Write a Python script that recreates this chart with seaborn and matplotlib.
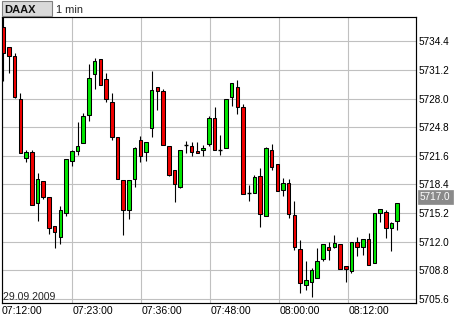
import matplotlib
matplotlib.use("Agg")
import matplotlib.pyplot as plt
from matplotlib.patches import Rectangle
import seaborn as sns
import numpy as np

# ---- data ----
opens = [5736.0, 5733.8, 5732.8, 5728.0, 5721.4, 5722.0, 5716.3, 5718.8, 5717.0, 5713.8,
         5712.5, 5715.2, 5721.0, 5722.1, 5723.0, 5726.2, 5730.8, 5732.4, 5730.2, 5727.6,
         5723.7, 5718.9, 5715.6, 5719.0, 5723.4, 5722.0, 5724.7, 5729.3, 5728.8, 5722.7,
         5720.0, 5718.1, 5722.8, 5722.7, 5722.1, 5722.2, 5722.9, 5725.8, 5722.3, 5722.5,
         5728.2, 5729.3, 5727.1, 5717.5, 5717.4, 5719.4, 5714.9, 5722.3, 5720.7, 5717.8,
         5718.6, 5715.0, 5711.2, 5707.2, 5707.5, 5707.9, 5710.1, 5711.4, 5711.4, 5711.7,
         5709.3, 5708.7, 5712.0, 5711.4, 5712.3, 5709.6, 5715.2, 5715.3, 5713.5, 5714.3]
highs = [5737.5, 5733.8, 5733.1, 5728.6, 5722.3, 5722.2, 5719.7, 5718.8, 5717.0, 5713.8,
         5716.0, 5721.3, 5722.2, 5725.4, 5726.4, 5731.9, 5732.5, 5732.4, 5730.9, 5728.6,
         5723.7, 5718.9, 5718.9, 5722.6, 5723.8, 5723.1, 5731.1, 5729.3, 5729.1, 5722.7,
         5720.0, 5722.3, 5723.3, 5723.2, 5723.1, 5722.8, 5726.1, 5727.1, 5723.9, 5728.0,
         5729.7, 5730.1, 5727.4, 5718.3, 5719.5, 5720.2, 5722.6, 5722.9, 5720.7, 5719.1,
         5719.0, 5716.5, 5712.2, 5709.8, 5709.1, 5711.3, 5711.7, 5712.0, 5712.8, 5711.7,
         5709.3, 5712.0, 5712.5, 5712.3, 5713.0, 5715.2, 5715.7, 5715.6, 5714.2, 5716.3]
lows = [5730.0, 5730.9, 5728.1, 5721.9, 5720.9, 5716.1, 5714.3, 5716.8, 5712.9, 5711.3,
        5711.7, 5714.9, 5720.5, 5721.7, 5723.0, 5725.5, 5729.1, 5729.5, 5727.6, 5723.4,
        5719.0, 5712.7, 5714.5, 5718.1, 5720.9, 5721.0, 5723.7, 5726.7, 5722.8, 5719.4,
        5716.4, 5718.0, 5721.9, 5721.6, 5721.9, 5721.6, 5722.7, 5722.3, 5721.7, 5722.5,
        5727.2, 5726.3, 5717.3, 5716.5, 5717.4, 5713.7, 5714.9, 5720.0, 5717.7, 5717.1,
        5714.7, 5711.1, 5706.3, 5706.6, 5705.8, 5707.9, 5709.9, 5710.0, 5711.3, 5709.0,
        5707.5, 5708.5, 5710.4, 5710.5, 5709.4, 5709.6, 5714.2, 5712.4, 5711.0, 5713.3]
closes = [5733.1, 5732.8, 5728.2, 5721.9, 5722.0, 5716.1, 5719.0, 5717.0, 5713.5, 5713.1,
          5715.5, 5721.3, 5722.1, 5722.7, 5726.1, 5730.3, 5732.2, 5729.5, 5727.9, 5723.7,
          5719.0, 5715.5, 5718.9, 5722.5, 5721.6, 5723.1, 5729.0, 5728.8, 5722.8, 5719.5,
          5718.4, 5722.2, 5722.8, 5722.0, 5721.9, 5722.5, 5725.8, 5722.3, 5722.3, 5727.9,
          5729.7, 5727.1, 5717.3, 5717.5, 5719.2, 5715.1, 5722.5, 5720.3, 5717.7, 5718.6,
          5715.1, 5711.4, 5707.4, 5707.7, 5708.8, 5709.8, 5711.7, 5711.1, 5711.9, 5709.0,
          5708.9, 5712.0, 5711.4, 5712.3, 5709.4, 5715.2, 5715.7, 5713.5, 5714.1, 5716.3]
time_labels = ["07:12:00", "07:23:00", "07:36:00", "07:48:00", "08:00:00", "08:12:00"]
price_ticks = [5705.6, 5708.8, 5712.0, 5715.2, 5718.4, 5721.6, 5724.8, 5728.0, 5731.2, 5734.4]
last_price = 5717.0
symbol = "DAAX"
interval = "1 min"
date_text = "29.09 2009"

# ---- style ----
sns.set_style("white")
plt.rcParams['font.family'] = ['Liberation Sans', 'DejaVu Sans']

W, H = 460, 320
fig = plt.figure(figsize=(W / 100, H / 100), dpi=100)
ax = fig.add_axes([2 / W, 17 / H, 414 / W, 286 / H])

n = len(opens)
x = np.arange(n)
o = np.array(opens); c = np.array(closes)
hi = np.array(highs); lo = np.array(lows)

up = c > o
down = c < o
doji = c == o

GREEN = '#00e600'
RED = '#f00000'
bw = 0.62

# wicks
ax.vlines(x, lo, hi, color='black', linewidth=0.8, zorder=3)
# bodies
ax.bar(x[up], (c - o)[up], bottom=o[up], width=bw, color=GREEN,
       edgecolor='black', linewidth=0.75, zorder=4)
ax.bar(x[down], (o - c)[down], bottom=c[down], width=bw, color=RED,
       edgecolor='black', linewidth=0.75, zorder=4)
ax.hlines(c[doji], x[doji] - bw / 2, x[doji] + bw / 2, color='black',
          linewidth=1.0, zorder=4)

# axes limits
ax.set_xlim(-0.23, 72.3)
ax.set_ylim(5705.15, 5737.12)

# grid / ticks
step = 12.09
xt = [-0.23] + [step * k for k in range(1, 6)]
ax.set_xticks(xt)
ax.set_xticklabels(time_labels, ha='left', fontsize=7.6)
ax.set_yticks(price_ticks)
ax.set_yticklabels([f"{v:.1f}" for v in price_ticks], fontsize=7.2)
ax.yaxis.tick_right()
ax.tick_params(axis='x', length=0, pad=2.5, colors='black')
ax.tick_params(axis='y', length=0, pad=2.2, colors='black')
for lab in ax.get_xticklabels():
    lab.set_x(0)
ax.grid(True, color='#c0c0c0', linewidth=0.8, zorder=0)
ax.set_axisbelow(True)
for s in ax.spines.values():
    s.set_visible(True)
    s.set_color('black')
    s.set_linewidth(0.85)

# date label inside plot
fig.text(3 / W, 1 - 299.5 / H, date_text, fontsize=7.6, va='baseline', ha='left')

# symbol box
fig.patches.append(Rectangle((2.5 / W, 1 - 15.5 / H), 50 / W, 14.5 / H,
                             transform=fig.transFigure, facecolor='#d9d9d9',
                             edgecolor='#808080', linewidth=0.8))
fig.text(4.5 / W, 1 - 12.7 / H, symbol, fontsize=8.0, fontweight='bold',
         va='baseline', ha='left', color='#111111')
fig.text(56 / W, 1 - 12.7 / H, interval, fontsize=7.9, va='baseline', ha='left')

# last price box
yb = ax.transData.transform((0, last_price))[1]
fig.patches.append(Rectangle((418 / W, (yb - 6.7) / H), 35 / W, 13.4 / H,
                             transform=fig.transFigure, facecolor='#8a8a8a',
                             edgecolor='#8a8a8a', linewidth=0.5))
fig.text(419.5 / W, yb / H, f"{last_price:.1f}", fontsize=7.2, va='center',
         ha='left', color='white')

fig.savefig("out.png", dpi=100)
